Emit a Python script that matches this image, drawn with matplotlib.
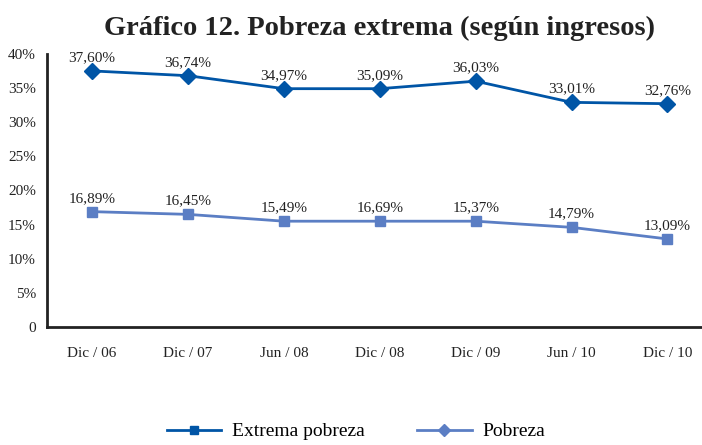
import matplotlib
matplotlib.use("Agg")
import matplotlib.pyplot as plt
from matplotlib.lines import Line2D

# data
periodos = ["Dic / 06", "Dic / 07", "Jun / 08", "Dic / 08", "Dic / 09", "Jun / 10", "Dic / 10"]
extrema = [37.5, 36.8, 34.9, 34.9, 36.0, 32.9, 32.7]          # plotted as in the picture
extrema_txt = ["37,60%", "36,74%", "34,97%", "35,09%", "36,03%", "33,01%", "32,76%"]
pobreza = [16.9, 16.5, 15.5, 15.5, 15.5, 14.6, 12.9]
pobreza_txt = ["16,89%", "16,45%", "15,49%", "16,69%", "15,37%", "14,79%", "13,09%"]
yticks = [0, 5, 10, 15, 20, 25, 30, 35, 40]
ytick_txt = ["0", "5%", "10%", "15%", "20%", "25%", "30%", "35%", "40%"]

c_dark = "#0055a6"
c_light = "#5b7ec4"

plt.rcParams['font.family'] = ['Liberation Serif', 'DejaVu Serif']

fig = plt.figure(figsize=(7.02, 4.45), dpi=100)
ax = fig.add_axes([0.067, 0.265, 0.933, 0.614])

x = list(range(len(periodos)))
ax.plot(x, extrema, color=c_dark, lw=2, marker="D", ms=8, mec=c_dark, mfc=c_dark)
ax.plot(x, pobreza, color=c_light, lw=2, marker="s", ms=7, mec=c_light, mfc=c_light)

for i in x:
    ax.annotate(extrema_txt[i], (i, extrema[i]), xytext=(0, 5), textcoords="offset points",
                ha="center", va="bottom", fontsize=11, color="#222222")
    ax.annotate(pobreza_txt[i], (i, pobreza[i]), xytext=(0, 5), textcoords="offset points",
                ha="center", va="bottom", fontsize=11, color="#222222")

ax.set_xlim(-0.47, 6.36)
ax.set_ylim(0, 40)
ax.set_xticks(x)
ax.set_xticklabels(periodos, fontsize=11, color="#222222")
ax.set_yticks(yticks)
ax.set_yticklabels(ytick_txt, fontsize=11, color="#222222")
ax.tick_params(length=0, pad=8)
ax.tick_params(axis="x", pad=14)
for s in ["top", "right"]:
    ax.spines[s].set_visible(False)
for s in ["left", "bottom"]:
    ax.spines[s].set_linewidth(2)
    ax.spines[s].set_color("#222222")

fig.text(0.54, 0.937, "Gráfico 12. Pobreza extrema (según ingresos)", ha="center", va="center",
         fontsize=20.5, fontweight="bold", color="#222222")

handles = [Line2D([], [], color=c_dark, lw=2, marker="s", ms=6),
           Line2D([], [], color=c_light, lw=2, marker="D", ms=6)]
fig.legend(handles, ["Extrema pobreza", "Pobreza"], loc="center", bbox_to_anchor=(0.507, 0.03),
           ncol=2, frameon=False, fontsize=14, handlelength=2.8, columnspacing=2.7,
           handletextpad=0.55, borderpad=0.2)

fig.savefig("out.png", dpi=100)
